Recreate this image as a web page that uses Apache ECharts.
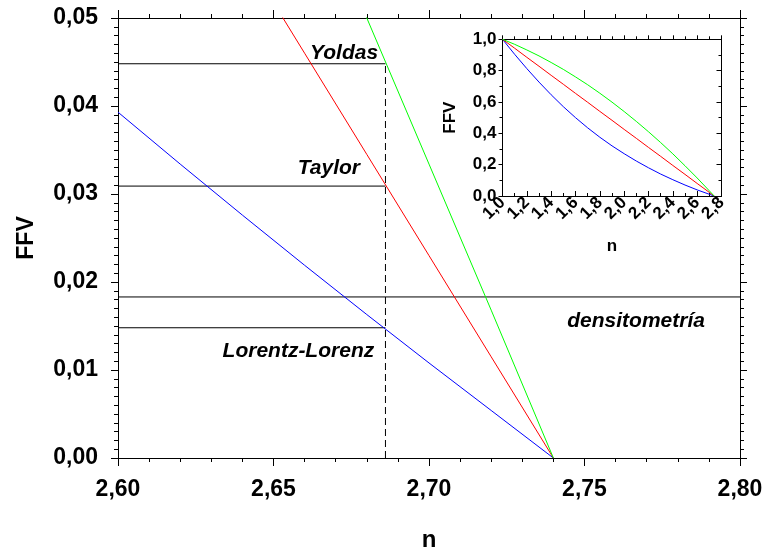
<!DOCTYPE html>
<html>
<head>
<meta charset="utf-8">
<title>FFV frente a n</title>
<script src="https://cdn.jsdelivr.net/npm/echarts@6/dist/echarts.min.js"></script>
<style>
  html, body { margin: 0; padding: 0; background: #ffffff; }
  #chart { width: 767px; height: 557px; }
</style>
</head>
<body>
<div id="chart"></div>
<script>
// Refractive index samples for the main (zoomed) panel
const nMain = [2.60, 2.62, 2.64, 2.66, 2.68, 2.70, 2.72, 2.74];
const ffvLorentzMain = [0.0393, 0.0334, 0.0276, 0.0219, 0.0163, 0.0108, 0.0054, 0.0000];
const ffvTaylorMain  = [0.0805, 0.0690, 0.0575, 0.0460, 0.0345, 0.0230, 0.0115, 0.0000];
const ffvYoldasMain  = [0.1149, 0.0988, 0.0827, 0.0664, 0.0500, 0.0334, 0.0168, 0.0000];

// Full-range samples for the inset
const nInset = [1.0, 1.1, 1.2, 1.3, 1.4, 1.5, 1.6, 1.7, 1.8, 1.9, 2.0, 2.1, 2.2, 2.3, 2.4, 2.5, 2.6, 2.7, 2.74];
const ffvLorentzInset = [1.000, 0.904, 0.813, 0.727, 0.646, 0.570, 0.500, 0.435, 0.375, 0.320, 0.270, 0.223, 0.180, 0.140, 0.104, 0.070, 0.039, 0.011, 0.000];
const ffvTaylorInset  = [1.000, 0.943, 0.885, 0.828, 0.770, 0.713, 0.655, 0.598, 0.540, 0.483, 0.425, 0.368, 0.310, 0.253, 0.195, 0.138, 0.080, 0.023, 0.000];
const ffvYoldasInset  = [1.000, 0.968, 0.932, 0.894, 0.852, 0.808, 0.760, 0.710, 0.656, 0.599, 0.539, 0.476, 0.410, 0.341, 0.269, 0.193, 0.115, 0.033, 0.000];

// Film refractive index and the FFV each model / densitometry gives for it
const filmIndex = 2.686;
const levelNames  = ['Yoldas', 'Taylor', 'Lorentz-Lorenz', 'densitometría'];
const levelValues = [0.0448, 0.0309, 0.0148, 0.0183];

// Axis ranges and tick steps
const mainX = { min: 2.60, max: 2.80, step: 0.05 };
const mainY = { min: 0.00, max: 0.05, step: 0.01 };
const insetX = { min: 1.0, max: 2.8, step: 0.2 };
const insetY = { min: 0.0, max: 1.0, step: 0.2 };

const FONT = "'Liberation Sans', Arial, sans-serif";
const comma = d => v => v.toFixed(d).replace('.', ',');
const pairs = (xs, ys) => xs.map((x, i) => [x, ys[i]]);

const chart = echarts.init(document.getElementById('chart'), null, { renderer: 'canvas' });

function axisBase(range, extra) {
  return Object.assign({
    type: 'value',
    min: range.min, max: range.max, interval: range.step,
    splitLine: { show: false },
    axisLine: { show: true, onZero: false, lineStyle: { color: '#000', width: 1 } },
    axisTick: { show: true, inside: false, length: 7, lineStyle: { color: '#000', width: 1 } },
    minorTick: { show: true, splitNumber: 5, length: 4, lineStyle: { color: '#000', width: 1 } },
    minorSplitLine: { show: false }
  }, extra);
}

const mainLabel = { fontFamily: FONT, fontWeight: 'bold', fontSize: 23, color: '#000' };
const insetLabel = { fontFamily: FONT, fontWeight: 'bold', fontSize: 17, color: '#000' };

const option = {
  animation: false,
  backgroundColor: '#ffffff',
  grid: [
    { left: 118, right: 27, top: 18, bottom: 92, containLabel: false },
    { left: 502.5, right: 45.5, top: 39.3, bottom: 361, containLabel: false, show: true, backgroundColor: '#ffffff', borderWidth: 0 }
  ],
  xAxis: [
    axisBase(mainX, {
      gridIndex: 0, position: 'bottom',
      name: 'n', nameLocation: 'middle', nameGap: 70,
      nameTextStyle: { fontFamily: FONT, fontWeight: 'bold', fontSize: 24, color: '#000' },
      axisLabel: Object.assign({ margin: 20, formatter: comma(2) }, mainLabel),
      axisTick: { show: true, length: 8, lineStyle: { color: '#000' } }
    }),
    axisBase(mainX, {
      gridIndex: 0, position: 'top',
      axisLabel: { show: false },
      axisTick: { show: true, length: 8, lineStyle: { color: '#000' } }
    }),
    axisBase(insetX, {
      gridIndex: 1, position: 'bottom',
      name: 'n', nameLocation: 'middle', nameGap: 42,
      nameTextStyle: { fontFamily: FONT, fontWeight: 'bold', fontSize: 17, color: '#000' },
      axisLabel: Object.assign({ margin: 4, rotate: 45, formatter: comma(1) }, insetLabel),
      axisTick: { show: true, inside: true, length: 5, lineStyle: { color: '#000' } },
      minorTick: { show: true, splitNumber: 2, length: 3, lineStyle: { color: '#000' } }
    }),
    axisBase(insetX, {
      gridIndex: 1, position: 'top',
      axisLabel: { show: false },
      axisTick: { show: true, length: 4, lineStyle: { color: '#000' } },
      minorTick: { show: true, splitNumber: 2, length: 3, lineStyle: { color: '#000' } }
    })
  ],
  yAxis: [
    axisBase(mainY, {
      gridIndex: 0, position: 'left',
      name: 'FFV', nameLocation: 'middle', nameGap: 80,
      nameTextStyle: { fontFamily: FONT, fontWeight: 'bold', fontSize: 23, color: '#000' },
      axisLabel: Object.assign({ margin: 20, formatter: comma(2) }, mainLabel),
      minorTick: { show: true, splitNumber: 10, length: 4, lineStyle: { color: '#000' } }
    }),
    axisBase(mainY, {
      gridIndex: 0, position: 'right',
      axisLabel: { show: false },
      minorTick: { show: true, splitNumber: 10, length: 4, lineStyle: { color: '#000' } }
    }),
    axisBase(insetY, {
      gridIndex: 1, position: 'left',
      name: 'FFV', nameLocation: 'middle', nameGap: 44,
      nameTextStyle: { fontFamily: FONT, fontWeight: 'bold', fontSize: 17, color: '#000' },
      axisLabel: Object.assign({ margin: 6, formatter: comma(1) }, insetLabel),
      axisTick: { show: true, length: 4, lineStyle: { color: '#000' } },
      minorTick: { show: true, splitNumber: 2, length: 3, lineStyle: { color: '#000' } }
    }),
    axisBase(insetY, {
      gridIndex: 1, position: 'right',
      axisLabel: { show: false },
      axisTick: { show: true, inside: true, length: 5, lineStyle: { color: '#000' } },
      minorTick: { show: true, splitNumber: 2, length: 3, lineStyle: { color: '#000' } }
    })
  ],
  series: []
};

function curve(name, data, color, xi, yi, z) {
  return {
    name, type: 'line', data, xAxisIndex: xi, yAxisIndex: yi,
    showSymbol: false, symbol: 'none', clip: true, z: z || 3,
    lineStyle: { color, width: 1 }, silent: true
  };
}

// Reference lines: levels up to the film index, densitometry across the panel
levelNames.forEach((name, i) => {
  const xEnd = name === 'densitometría' ? mainX.max : filmIndex;
  option.series.push(curve('nivel ' + name, [[mainX.min, levelValues[i]], [xEnd, levelValues[i]]], '#000000', 0, 0, 2));
});
option.series.push({
  name: 'n película', type: 'line', xAxisIndex: 0, yAxisIndex: 0,
  data: [[filmIndex, mainY.min], [filmIndex, Math.max.apply(null, levelValues)]],
  showSymbol: false, symbol: 'none', z: 2, silent: true,
  lineStyle: { color: '#000', width: 1, type: [7, 4] }
});

// Model curves, main panel
option.series.push(curve('Lorentz-Lorenz', pairs(nMain, ffvLorentzMain), '#0000ff', 0, 0));
option.series.push(curve('Taylor', pairs(nMain, ffvTaylorMain), '#ff0000', 0, 0));
option.series.push(curve('Yoldas', pairs(nMain, ffvYoldasMain), '#00ff00', 0, 0));

// Model curves, inset
option.series.push(curve('Lorentz-Lorenz (total)', pairs(nInset, ffvLorentzInset), '#0000ff', 2, 2, 5));
option.series.push(curve('Taylor (total)', pairs(nInset, ffvTaylorInset), '#ff0000', 2, 2, 5));
option.series.push(curve('Yoldas (total)', pairs(nInset, ffvYoldasInset), '#00ff00', 2, 2, 5));

chart.setOption(option);

// Italic captions placed in data coordinates of the main panel
const captionAnchors = {
  'Yoldas':         [2.6727, 0.0460],
  'Taylor':         [2.6678, 0.0329],
  'Lorentz-Lorenz': [2.6580, 0.0121],
  'densitometría':  [2.7666, 0.0156]
};
const graphics = levelNames.map(name => {
  const p = chart.convertToPixel({ xAxisIndex: 0, yAxisIndex: 0 }, captionAnchors[name]);
  return {
    type: 'text', x: p[0], y: p[1], z: 10, silent: true,
    style: {
      text: name, fill: '#000',
      font: "italic bold 21px 'Liberation Sans', Arial, sans-serif",
      align: 'center', verticalAlign: 'middle'
    }
  };
});
chart.setOption({ graphic: graphics });
</script>
</body>
</html>
